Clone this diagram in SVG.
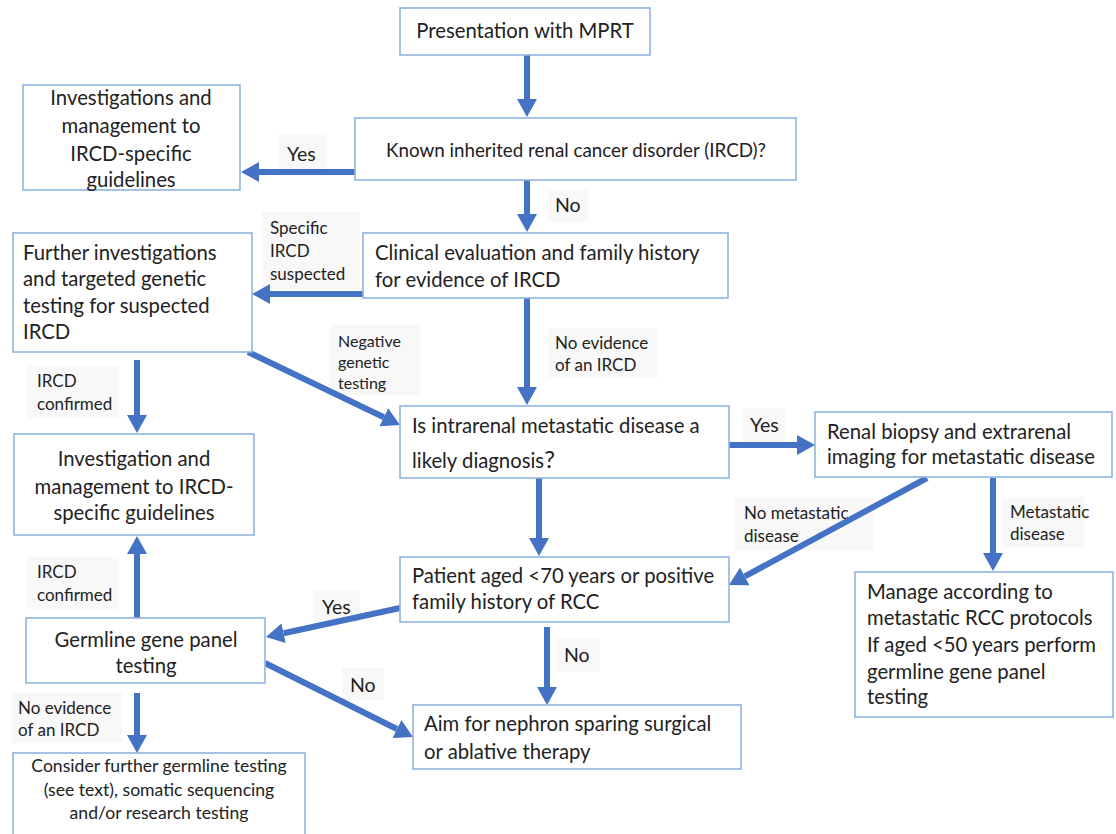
<svg xmlns="http://www.w3.org/2000/svg" width="1116" height="834" viewBox="0 0 1116 834">
<style>
.box{fill:#fff;stroke:#8fb4e0;stroke-width:1.6}
.t{font-family:Lato,"Open Sans",sans-serif;font-size:20.3px;fill:#222}
.c{text-anchor:middle}
.l{font-family:Lato,"Open Sans",sans-serif;font-size:17px;fill:#222}
.y{font-family:Lato,"Open Sans",sans-serif;font-size:19.5px;fill:#222}
.lb{fill:#f8f8f8}
.a{stroke:#4472c4;stroke-width:6;fill:none;marker-end:url(#ah)}
</style>
<defs>
<marker id="ah" viewBox="0 0 18 20" refX="0" refY="10" markerWidth="18" markerHeight="20" markerUnits="userSpaceOnUse" orient="auto">
<path d="M0,0 L18,10 L0,20 Z" fill="#4472c4"/>
</marker>
</defs>
<rect width="1116" height="834" fill="#fff"/>

<g id="labels">
<rect class="lb" x="278" y="135" width="48" height="35"/>
<text class="y" x="287" y="161">Yes</text>
<rect class="lb" x="548" y="190" width="40" height="32"/>
<text class="y" x="555" y="212">No</text>
<rect class="lb" x="262" y="212" width="98" height="78"/>
<text class="l" x="270" y="234">Specific</text>
<text class="l" x="270" y="257">IRCD</text>
<text class="l" x="270" y="280">suspected</text>
<rect class="lb" x="27" y="366" width="92" height="52"/>
<text class="l" x="37" y="387">IRCD</text>
<text class="l" x="37" y="410">confirmed</text>
<rect class="lb" x="330" y="325" width="90" height="70"/>
<text class="l" x="338" y="347" style="font-size:16px">Negative</text>
<text class="l" x="338" y="368" style="font-size:16px">genetic</text>
<text class="l" x="338" y="389" style="font-size:16px">testing</text>
<rect class="lb" x="548" y="328" width="110" height="50"/>
<text class="l" x="555" y="349">No evidence</text>
<text class="l" x="555" y="371">of an IRCD</text>
<rect class="lb" x="742" y="408" width="44" height="34"/>
<text class="y" x="750" y="432">Yes</text>
<rect class="lb" x="734" y="498" width="140" height="52"/>
<text class="l" x="744" y="519">No metastatic</text>
<text class="l" x="744" y="542">disease</text>
<rect class="lb" x="1002" y="497" width="82" height="50"/>
<text class="l" x="1010" y="518">Metastatic</text>
<text class="l" x="1010" y="540">disease</text>
<rect class="lb" x="27" y="557" width="92" height="52"/>
<text class="l" x="37" y="578">IRCD</text>
<text class="l" x="37" y="601">confirmed</text>
<rect class="lb" x="314" y="590" width="46" height="32"/>
<text class="y" x="322" y="614">Yes</text>
<rect class="lb" x="342" y="668" width="42" height="32"/>
<text class="y" x="350" y="692">No</text>
<rect class="lb" x="556" y="638" width="44" height="34"/>
<text class="y" x="564" y="662">No</text>
<rect class="lb" x="12" y="693" width="110" height="50"/>
<text class="l" x="18" y="714">No evidence</text>
<text class="l" x="18" y="736">of an IRCD</text>
</g>

<g id="connectors">
<line class="a" x1="527" y1="55" x2="527" y2="99"/>
<line class="a" x1="355" y1="172" x2="259" y2="172"/>
<line class="a" x1="527" y1="180" x2="527" y2="214"/>
<line class="a" x1="363" y1="294" x2="270" y2="294"/>
<line class="a" x1="527" y1="298" x2="527" y2="387"/>
<line class="a" x1="137" y1="360" x2="137" y2="415"/>
<line class="a" x1="248" y1="352" x2="383.8" y2="417.2"/>
<line class="a" x1="729" y1="445" x2="797" y2="445"/>
<line class="a" x1="539" y1="478" x2="539" y2="538"/>
<line class="a" x1="927" y1="478" x2="744.8" y2="576.4"/>
<line class="a" x1="993" y1="478" x2="993" y2="553"/>
<line class="a" x1="137" y1="618" x2="137" y2="554"/>
<line class="a" x1="400" y1="608" x2="283.6" y2="633.2"/>
<line class="a" x1="265" y1="663" x2="396.9" y2="729"/>
<line class="a" x1="137" y1="693" x2="137" y2="735"/>
<line class="a" x1="547" y1="627" x2="547" y2="687"/>
</g>

<g id="n1">
<rect class="box" x="400" y="8" width="250" height="47"/>
<text class="t c" x="525" y="38">Presentation with MPRT</text>
</g>
<g id="n2">
<rect class="box" x="355" y="118" width="441" height="62"/>
<text class="t c" x="576" y="157" style="font-size:18.8px">Known inherited renal cancer disorder (IRCD)?</text>
</g>
<g id="n3">
<rect class="box" x="23" y="85" width="217" height="105"/>
<text class="t c" x="131" y="105">Investigations and</text>
<text class="t c" x="131" y="133">management to</text>
<text class="t c" x="131" y="161">IRCD-specific</text>
<text class="t c" x="131" y="187">guidelines</text>
</g>
<g id="n4">
<rect class="box" x="363" y="233" width="365" height="65"/>
<text class="t" x="375" y="260">Clinical evaluation and family history</text>
<text class="t" x="375" y="287">for evidence of IRCD</text>
</g>
<g id="n5">
<rect class="box" x="13" y="233" width="239" height="119"/>
<text class="t" x="23" y="260">Further investigations</text>
<text class="t" x="23" y="286">and targeted genetic</text>
<text class="t" x="23" y="313">testing for suspected</text>
<text class="t" x="23" y="339">IRCD</text>
</g>
<g id="n6">
<rect class="box" x="14" y="434" width="240" height="101"/>
<text class="t c" x="134" y="466">Investigation and</text>
<text class="t c" x="134" y="494">management to IRCD-</text>
<text class="t c" x="134" y="520">specific guidelines</text>
</g>
<g id="n7">
<rect class="box" x="400" y="406" width="329" height="72"/>
<text class="t" x="412" y="433">Is intrarenal metastatic disease a</text>
<text class="t" x="412" y="468">likely diagnosis<tspan style="font-size:24px">?</tspan></text>
</g>
<g id="n8">
<rect class="box" x="815" y="412" width="297" height="65"/>
<text class="t" x="827" y="439">Renal biopsy and extrarenal</text>
<text class="t" x="827" y="464">imaging for metastatic disease</text>
</g>
<g id="n9">
<rect class="box" x="400" y="557" width="329" height="65"/>
<text class="t" x="412" y="583">Patient aged &lt;70 years or positive</text>
<text class="t" x="412" y="609">family history of RCC</text>
</g>
<g id="n10">
<rect class="box" x="855" y="572" width="258" height="145"/>
<text class="t" x="867" y="599">Manage according to</text>
<text class="t" x="867" y="625">metastatic RCC protocols</text>
<text class="t" x="867" y="652">If aged &lt;50 years perform</text>
<text class="t" x="867" y="679">germline gene panel</text>
<text class="t" x="867" y="704">testing</text>
</g>
<g id="n11">
<rect class="box" x="26" y="618" width="239" height="65"/>
<text class="t c" x="146" y="647">Germline gene panel</text>
<text class="t c" x="146" y="673">testing</text>
</g>
<g id="n12">
<rect class="box" x="13" y="753" width="292" height="90"/>
<text class="t c" x="159" y="772" style="font-size:17.6px">Consider further germline testing</text>
<text class="t c" x="159" y="796" style="font-size:17.6px">(see text), somatic sequencing</text>
<text class="t c" x="159" y="819" style="font-size:17.6px">and/or research testing</text>
</g>
<g id="n13">
<rect class="box" x="413" y="705" width="328" height="64"/>
<text class="t" x="424" y="731">Aim for nephron sparing surgical</text>
<text class="t" x="424" y="759">or ablative therapy</text>
</g>
</svg>
